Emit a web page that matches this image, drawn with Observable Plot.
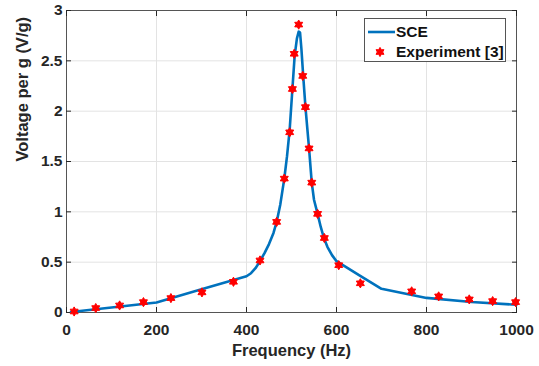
<!DOCTYPE html>
<html>
<head>
<meta charset="utf-8">
<script src="https://cdn.jsdelivr.net/npm/d3@7"></script>
<script src="https://cdn.jsdelivr.net/npm/@observablehq/plot@0.6"></script>
<style>
  html, body { margin: 0; padding: 0; background: #fff; }
  #wrap { position: relative; width: 539px; height: 366px; font-family: "Liberation Sans", Arial, Helvetica, sans-serif; }
  #legend { position: absolute; left: 364px; top: 18px; width: 142px; height: 44px; background: #fff; border: 1px solid #555; box-sizing: border-box; font-weight: bold; font-size: 15.5px; color: #111; }
  .row { position: absolute; left: 0; height: 20px; display: flex; align-items: center; }
  .row span { position: absolute; left: 31px; white-space: nowrap; }
</style>
</head>
<body>
<div id="wrap"></div>
<script>
// Experiment [3] measured points
const freqExp = [17, 65, 118, 171, 232, 301, 371, 430, 467, 484, 496, 502, 506, 516, 525, 531, 539, 545, 558, 573, 605, 653, 767, 827, 895, 947, 998];
const voltExp = [0.01, 0.044, 0.07, 0.103, 0.143, 0.20, 0.305, 0.517, 0.90, 1.33, 1.79, 2.22, 2.57, 2.86, 2.35, 2.04, 1.63, 1.29, 0.98, 0.74, 0.47, 0.29, 0.21, 0.16, 0.13, 0.113, 0.103];

// SCE model curve
const freqSCE = [10, 100, 200, 300, 400, 410, 420, 430, 440, 450, 460, 467, 475, 484, 490, 496, 502, 507, 512, 516, 519, 522, 526, 531, 539, 545, 550, 558, 565, 572, 580, 590, 600, 650, 700, 800, 900, 1000];
const voltSCE = [0.005, 0.05, 0.10, 0.23, 0.36, 0.39, 0.44, 0.51, 0.59, 0.68, 0.79, 0.90, 1.07, 1.33, 1.55, 1.82, 2.22, 2.55, 2.72, 2.79, 2.78, 2.62, 2.35, 2.04, 1.63, 1.29, 1.12, 0.98, 0.85, 0.74, 0.65, 0.57, 0.51, 0.372, 0.235, 0.145, 0.105, 0.077];

const xTicks = [0, 200, 400, 600, 800, 1000];
const xTickLabels = ["0", "200", "400", "600", "800", "1000"];
const yTicks = [0, 0.5, 1, 1.5, 2, 2.5, 3];
const yTickLabels = ["0", "0.5", "1", "1.5", "2", "2.5", "3"];
const xLabel = "Frequency (Hz)";
const yLabel = "Voltage per g (V/g)";
const seriesNames = ["SCE", "Experiment [3]"];

const expData = freqExp.map((f, i) => ({f, v: voltExp[i]}));
const sceData = freqSCE.map((f, i) => ({f, v: voltSCE[i]}));

const lineColor = "#0072BD";
const starColor = "#ff0000";
const axisColor = "#262626";

// six-pointed star (hexagram)
const hexagram = {
  draw(context, size) {
    const R = Math.sqrt(size / Math.PI);
    const r = R / Math.sqrt(3);
    for (let k = 0; k < 12; k++) {
      const a = -Math.PI / 2 + k * Math.PI / 6;
      const rr = k % 2 === 0 ? R : r;
      const x = rr * Math.cos(a), y = rr * Math.sin(a);
      if (k === 0) context.moveTo(x, y); else context.lineTo(x, y);
    }
    context.closePath();
  }
};

const chart = Plot.plot({
  width: 539,
  height: 366,
  marginLeft: 66,
  marginRight: 23,
  marginTop: 10,
  marginBottom: 54,
  style: { fontFamily: '"Liberation Sans", Arial, Helvetica, sans-serif', fontSize: "15px", fontWeight: "bold", color: axisColor, background: "#fff" },
  x: { domain: [0, 1000], ticks: xTicks },
  y: { domain: [0, 3], ticks: yTicks },
  marks: [
    Plot.gridX(xTicks, { stroke: "#e3e3e3", strokeOpacity: 1 }),
    Plot.gridY(yTicks, { stroke: "#e3e3e3", strokeOpacity: 1 }),
    Plot.frame({ stroke: "#555" }),
    // inward ticks
    Plot.axisX(xTicks, { anchor: "bottom", tickSize: -5, tickFormat: () => "", label: null, stroke: axisColor }),
    Plot.axisX(xTicks, { anchor: "top", tickSize: -5, tickFormat: () => "", label: null, stroke: axisColor }),
    Plot.axisY(yTicks, { anchor: "left", tickSize: -5, tickFormat: () => "", label: null, stroke: axisColor }),
    Plot.axisY(yTicks, { anchor: "right", tickSize: -5, tickFormat: () => "", label: null, stroke: axisColor }),
    // tick labels
    Plot.axisX(xTicks, { anchor: "bottom", tickSize: 0, tickPadding: 11, label: null, tickFormat: (d) => xTickLabels[xTicks.indexOf(d)], fill: axisColor, fontSize: 15.5, fontWeight: "bold" }),
    Plot.axisY(yTicks, { anchor: "left", tickSize: 0, tickPadding: 4, label: null, tickFormat: (d) => yTickLabels[yTicks.indexOf(d)], fill: axisColor, fontSize: 15.5, fontWeight: "bold" }),
    // axis titles
    Plot.text([xLabel], { frameAnchor: "bottom", dy: 43, text: (d) => d, fontSize: 16.5, fontWeight: "bold", fill: axisColor }),
    Plot.text([yLabel], { frameAnchor: "left", dx: -44, rotate: -90, text: (d) => d, fontSize: 16.5, fontWeight: "bold", fill: axisColor }),
    // data
    Plot.line(sceData, { x: "f", y: "v", stroke: lineColor, strokeWidth: 2.6, curve: "linear", strokeLinejoin: "round" }),
    Plot.dot(expData, { x: "f", y: "v", symbol: hexagram, r: 4.6, fill: starColor, stroke: starColor, strokeWidth: 1 })
  ]
});

const wrap = document.getElementById("wrap");
wrap.appendChild(chart);

// legend
const legend = document.createElement("div");
legend.id = "legend";
const row1 = document.createElement("div");
row1.className = "row"; row1.style.top = "3px";
row1.innerHTML = `<svg width="30" height="20" style="position:absolute;left:2px;top:0"><line x1="1" x2="28" y1="10" y2="10" stroke="${lineColor}" stroke-width="2.6"/></svg><span>${seriesNames[0]}</span>`;
const row2 = document.createElement("div");
row2.className = "row"; row2.style.top = "23px";
const R = 4.6, r = R / Math.sqrt(3);
let pts = [];
for (let k = 0; k < 12; k++) { const a = -Math.PI/2 + k*Math.PI/6; const rr = k%2===0?R:r; pts.push((15+rr*Math.cos(a)).toFixed(2)+","+(10+rr*Math.sin(a)).toFixed(2)); }
row2.innerHTML = `<svg width="30" height="20" style="position:absolute;left:0;top:0"><polygon points="${pts.join(" ")}" fill="${starColor}" stroke="${starColor}" stroke-width="1"/></svg><span>${seriesNames[1]}</span>`;
legend.appendChild(row1);
legend.appendChild(row2);
wrap.appendChild(legend);
</script>
</body>
</html>
